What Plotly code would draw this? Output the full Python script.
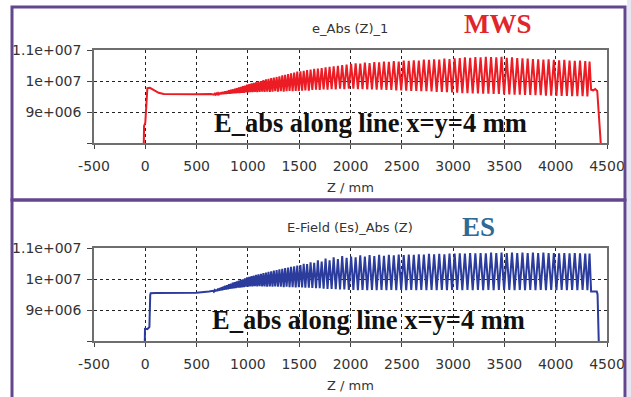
import plotly.graph_objects as go

W, H = 631, 397

# ---------------- data ----------------
x_ticks = [-500, 0, 500, 1000, 1500, 2000, 2500, 3000, 3500, 4000, 4500]
y_ticks = [8e6, 9e6, 1e7, 1.1e7]
y_tick_text = ["", "9e+006", "1e+007", "1.1e+007"]

# cell structure along the line (peak and trough positions, mm)
cell_peak_z = [
    660, 676, 692, 709, 726, 743, 761, 779, 797, 815, 834, 853, 872, 891, 911, 931, 951, 971, 992,
    1013, 1035, 1057, 1080, 1103, 1127, 1151, 1176, 1201, 1227, 1253, 1280, 1307, 1335, 1363, 1392, 1421, 1451, 1481,
    1512, 1544, 1577, 1611, 1646, 1682, 1719, 1757, 1796, 1836, 1877, 1919, 1962,
    2006, 2050, 2095, 2140, 2186, 2232, 2279, 2326, 2374, 2422, 2470, 2519, 2568, 2617, 2666, 2715, 2765, 2815, 2865, 2915, 2965,
    3015, 3065, 3115, 3166, 3217, 3268, 3319, 3370, 3421, 3472, 3523, 3574, 3625, 3676, 3727, 3778, 3829, 3880, 3931, 3982,
    4033, 4084, 4135, 4186, 4237, 4288, 4330]
cell_trough_z = [
    668, 684, 700, 717, 734, 752, 770, 788, 806, 824, 843, 862, 881, 901, 921, 941, 961, 981, 1002,
    1024, 1046, 1068, 1091, 1115, 1139, 1163, 1188, 1214, 1240, 1266, 1293, 1321, 1349, 1377, 1406, 1436, 1466, 1496,
    1528, 1560, 1594, 1628, 1664, 1700, 1738, 1776, 1816, 1856, 1898, 1940, 1984,
    2028, 2072, 2117, 2163, 2209, 2255, 2302, 2350, 2398, 2446, 2494, 2543, 2592, 2641, 2690, 2740, 2790, 2840, 2890, 2940, 2990,
    3040, 3090, 3140, 3191, 3242, 3293, 3344, 3395, 3446, 3497, 3548, 3599, 3650, 3701, 3752, 3803, 3854, 3905, 3956, 4007,
    4058, 4109, 4160, 4211, 4262, 4309]

# MWS (values in 1e6 V/m)
mws_head_z = [-15, -12, 0, 12, 20, 45, 80, 130, 180, 300, 500, 640]
mws_head_e = [7.95, 8.55, 8.65, 9.70, 9.77, 9.78, 9.72, 9.62, 9.58, 9.57, 9.57, 9.58]
mws_peak_e = [
    9.58, 9.59, 9.60, 9.61, 9.62, 9.64, 9.65, 9.67, 9.68, 9.70, 9.72, 9.73, 9.75, 9.77, 9.79, 9.81, 9.83, 9.85, 9.88,
    9.90, 9.92, 9.94, 9.96, 9.98, 10.00, 10.03, 10.05, 10.07, 10.09, 10.11, 10.13, 10.15, 10.18, 10.20, 10.22, 10.25, 10.27, 10.30,
    10.31, 10.33, 10.35, 10.37, 10.39, 10.40, 10.42, 10.44, 10.46, 10.47, 10.49, 10.51, 10.53,
    10.55, 10.57, 10.56, 10.59, 10.58, 10.61, 10.60, 10.63, 10.62, 10.64, 10.63, 10.66, 10.65, 10.67, 10.66, 10.69, 10.68, 10.70, 10.69, 10.72, 10.71,
    10.73, 10.74, 10.76, 10.75, 10.77, 10.76, 10.78, 10.77, 10.76, 10.78, 10.75, 10.76, 10.74, 10.73, 10.72, 10.71, 10.70, 10.69, 10.70, 10.68,
    10.67, 10.68, 10.66, 10.65, 10.66, 10.64, 10.63]
mws_trough_e = [
    9.56, 9.56, 9.57, 9.57, 9.57, 9.58, 9.58, 9.58, 9.59, 9.59, 9.60, 9.60, 9.60, 9.61, 9.61, 9.62, 9.62, 9.63, 9.63,
    9.64, 9.64, 9.65, 9.64, 9.65, 9.66, 9.65, 9.66, 9.65, 9.66, 9.67, 9.66, 9.67, 9.66, 9.67, 9.68, 9.67, 9.68, 9.68,
    9.69, 9.70, 9.69, 9.71, 9.72, 9.71, 9.73, 9.72, 9.74, 9.73, 9.75, 9.74, 9.75,
    9.75, 9.74, 9.74, 9.73, 9.73, 9.72, 9.72, 9.71, 9.71, 9.70, 9.70, 9.69, 9.68, 9.68, 9.67, 9.67, 9.66, 9.65, 9.65, 9.64, 9.63,
    9.62, 9.61, 9.61, 9.60, 9.60, 9.59, 9.59, 9.58, 9.58, 9.57, 9.57, 9.56, 9.56, 9.55, 9.55, 9.54, 9.54, 9.53, 9.53, 9.52,
    9.52, 9.52, 9.51, 9.51, 9.51, 9.50]
mws_tail_z = [4345, 4365, 4385, 4405, 4425, 4440]
mws_tail_e = [9.72, 9.70, 9.74, 9.68, 8.60, 7.95]

# ES (values in 1e6 V/m)
es_head_z = [-5, -3, 0, 20, 40, 48, 52, 100, 300, 500, 620]
es_head_e = [7.95, 8.42, 8.40, 8.38, 8.45, 9.48, 9.54, 9.55, 9.55, 9.56, 9.60]
es_peak_e = [
    9.62, 9.64, 9.66, 9.69, 9.71, 9.73, 9.76, 9.78, 9.80, 9.83, 9.85, 9.88, 9.90, 9.92, 9.95, 9.97, 9.99, 10.02, 10.05,
    10.07, 10.09, 10.11, 10.13, 10.15, 10.17, 10.19, 10.21, 10.23, 10.25, 10.27, 10.29, 10.31, 10.33, 10.35, 10.37, 10.39, 10.41, 10.43,
    10.45, 10.49, 10.48, 10.54, 10.52, 10.60, 10.56, 10.66, 10.60, 10.70, 10.64, 10.74, 10.68,
    10.72, 10.70, 10.76, 10.72, 10.77, 10.74, 10.78, 10.75, 10.78, 10.76, 10.79, 10.77, 10.79, 10.78, 10.80, 10.79, 10.81, 10.80, 10.81, 10.80, 10.82,
    10.82, 10.83, 10.82, 10.84, 10.83, 10.84, 10.83, 10.85, 10.84, 10.85, 10.84, 10.85, 10.84, 10.85, 10.84, 10.85, 10.84, 10.85, 10.84, 10.84,
    10.83, 10.84, 10.83, 10.84, 10.83, 10.82, 10.82]
es_trough_e = [
    9.59, 9.60, 9.61, 9.62, 9.63, 9.64, 9.65, 9.66, 9.67, 9.68, 9.69, 9.70, 9.71, 9.72, 9.72, 9.73, 9.74, 9.75, 9.75,
    9.76, 9.76, 9.77, 9.76, 9.77, 9.76, 9.76, 9.75, 9.76, 9.75, 9.76, 9.75, 9.75, 9.74, 9.75, 9.74, 9.74, 9.73, 9.74,
    9.73, 9.72, 9.72, 9.71, 9.70, 9.70, 9.69, 9.68, 9.68, 9.67, 9.66, 9.66, 9.65,
    9.65, 9.64, 9.65, 9.64, 9.65, 9.64, 9.65, 9.64, 9.65, 9.64, 9.65, 9.64, 9.65, 9.64, 9.65, 9.64, 9.65, 9.64, 9.65, 9.64, 9.65,
    9.65, 9.64, 9.65, 9.64, 9.65, 9.64, 9.65, 9.64, 9.65, 9.64, 9.65, 9.64, 9.65, 9.64, 9.65, 9.64, 9.65, 9.64, 9.65, 9.64,
    9.65, 9.64, 9.65, 9.64, 9.65, 9.64]
es_tail_z = [4345, 4400, 4408, 4420]
es_tail_e = [9.60, 9.60, 9.50, 7.95]


def build(head_z, head_e, peak_e, trough_e, tail_z, tail_e):
    z, e = list(head_z), list(head_e)
    for i in range(len(cell_peak_z)):
        z.append(cell_peak_z[i]); e.append(peak_e[i])
        if i < len(cell_trough_z):
            z.append(cell_trough_z[i]); e.append(trough_e[i])
    z += tail_z
    e += tail_e
    return z, [v * 1e6 for v in e]


mws_z, mws_e = build(mws_head_z, mws_head_e, mws_peak_e, mws_trough_e, mws_tail_z, mws_tail_e)
es_z, es_e = build(es_head_z, es_head_e, es_peak_e, es_trough_e, es_tail_z, es_tail_e)

# ---------------- figure ----------------
def px(x):
    return x / W


def py(y):
    return 1 - y / H


fig = go.Figure()
fig.add_trace(go.Scatter(x=mws_z, y=mws_e, mode="lines", line=dict(color="#ec1c24", width=2),
                         xaxis="x", yaxis="y", showlegend=False))
fig.add_trace(go.Scatter(x=es_z, y=es_e, mode="lines", line=dict(color="#2b3c9c", width=2),
                         xaxis="x2", yaxis="y2", showlegend=False))

tick_font = dict(family="DejaVu Sans", size=14, color="#333333")
common_x = dict(range=[-500, 4500], tickvals=x_ticks, ticktext=[str(t) for t in x_ticks],
                showline=True, linecolor="#6e6e6e", linewidth=1.6, mirror=True,
                ticks="outside", ticklen=4, tickcolor="#444444", tickwidth=1.3,
                showgrid=True, gridcolor="#222222", griddash="dot", gridwidth=1.1,
                zeroline=False, tickfont=tick_font, ticklabelstandoff=5, fixedrange=True,
                automargin=False)
common_y = dict(range=[8e6, 1.1e7], tickvals=y_ticks, ticktext=y_tick_text,
                showline=True, linecolor="#6e6e6e", linewidth=1.6, mirror=True,
                ticks="outside", ticklen=5, tickcolor="#444444", tickwidth=1.3,
                showgrid=True, gridcolor="#222222", griddash="dot", gridwidth=1.1,
                zeroline=False, tickfont=tick_font, ticklabelstandoff=3, fixedrange=True,
                automargin=False)

fig.update_layout(
    width=W, height=H, autosize=False,
    margin=dict(l=0, r=0, t=0, b=0, pad=0),
    paper_bgcolor="white", plot_bgcolor="white",
    xaxis=dict(domain=[px(94), px(607)], anchor="y", **common_x),
    yaxis=dict(domain=[py(143), py(50)], anchor="x", **common_y),
    xaxis2=dict(domain=[px(94), px(607)], anchor="y2", **common_x),
    yaxis2=dict(domain=[py(341), py(248)], anchor="x2", **common_y),
)

purple = "#62478f"
fig.add_shape(type="rect", xref="paper", yref="paper", x0=px(627), x1=1.0, y0=0, y1=1,
              fillcolor="#e5e8f2", line=dict(width=0), layer="below")
fig.add_shape(type="rect", xref="paper", yref="paper", x0=px(12), x1=px(625), y0=py(200), y1=py(7),
              line=dict(color=purple, width=3), fillcolor="rgba(0,0,0,0)")
fig.add_shape(type="rect", xref="paper", yref="paper", x0=px(12), x1=px(625), y0=py(400), y1=py(200),
              line=dict(color=purple, width=3), fillcolor="rgba(0,0,0,0)")

sans = "DejaVu Sans"
serif = "Liberation Serif"
ann = [
    dict(text="e_Abs (Z)_1", x=px(350), y=py(29), font=dict(family=sans, size=13, color="#333333")),
    dict(text="<b>MWS</b>", x=px(498), y=py(24), font=dict(family=serif, size=27, color="#e0262b")),
    dict(text="<b>E_abs along line x=y=4 mm</b>", x=px(370), y=py(123),
         font=dict(family=serif, size=26.5, color="#111111")),
    dict(text="Z / mm", x=px(350), y=py(187), font=dict(family=sans, size=13, color="#333333")),
    dict(text="E-Field (Es)_Abs (Z)", x=px(350), y=py(227), font=dict(family=sans, size=13, color="#333333")),
    dict(text="<b>ES</b>", x=px(478), y=py(227), font=dict(family=serif, size=27, color="#2f6a96")),
    dict(text="<b>E_abs along line x=y=4 mm</b>", x=px(368), y=py(320),
         font=dict(family=serif, size=26.5, color="#111111")),
    dict(text="Z / mm", x=px(350), y=py(385), font=dict(family=sans, size=13, color="#333333")),
]
for a in ann:
    fig.add_annotation(xref="paper", yref="paper", showarrow=False, xanchor="center", yanchor="middle", **a)

fig.write_html("out.html", config={"displayModeBar": False},
               post_script="document.body.style.margin='0';document.body.style.overflow='hidden';")
